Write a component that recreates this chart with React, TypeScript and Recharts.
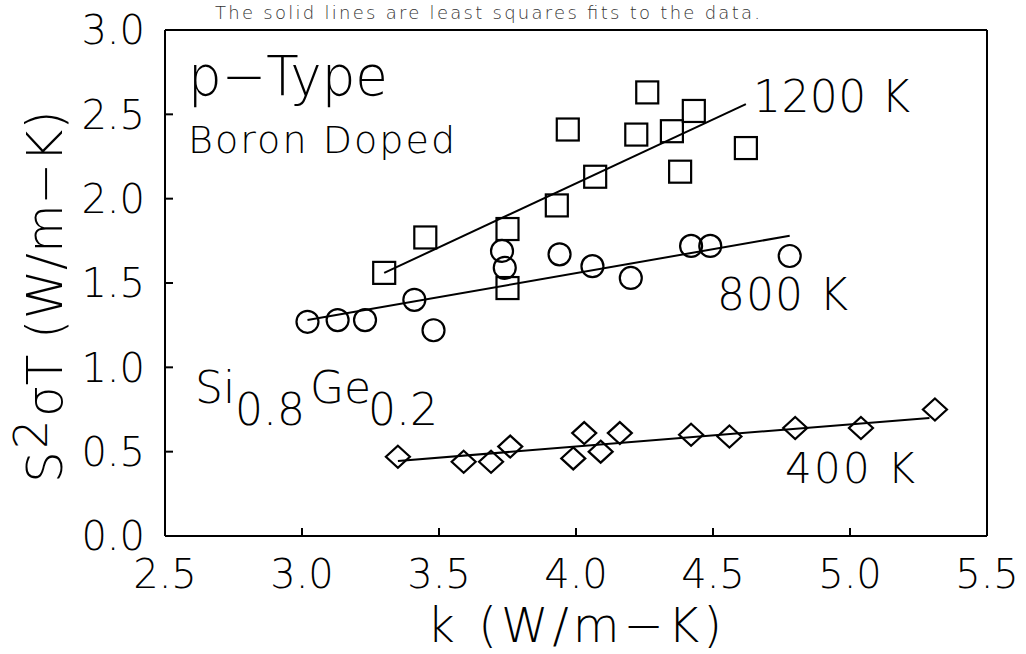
import React from 'react';
import { ScatterChart, Scatter, XAxis, YAxis } from 'recharts';

// thermal conductivity k (W/m-K) and power factor S^2 sigma T (W/m-K)
const k1200 = [3.30, 3.45, 3.75, 3.75, 3.93, 4.07, 3.97, 4.26, 4.22, 4.35, 4.43, 4.38, 4.62];
const s1200 = [1.56, 1.77, 1.82, 1.47, 1.96, 2.13, 2.41, 2.63, 2.38, 2.40, 2.52, 2.16, 2.30];

const k800 = [3.02, 3.13, 3.23, 3.41, 3.48, 3.73, 3.74, 3.94, 4.06, 4.20, 4.42, 4.49, 4.78];
const s800 = [1.27, 1.28, 1.28, 1.40, 1.22, 1.69, 1.59, 1.67, 1.60, 1.53, 1.72, 1.72, 1.66];

const k400 = [3.35, 3.59, 3.69, 3.76, 3.99, 4.03, 4.09, 4.16, 4.42, 4.56, 4.80, 5.04, 5.31];
const s400 = [0.47, 0.44, 0.44, 0.53, 0.46, 0.61, 0.50, 0.61, 0.60, 0.59, 0.64, 0.64, 0.75];

// least squares fits
const fitK1200 = [3.30, 4.62];
const fitS1200 = [1.56, 2.56];
const fitK800 = [3.02, 4.78];
const fitS800 = [1.28, 1.78];
const fitK400 = [3.35, 5.29];
const fitS400 = [0.445, 0.70];

const kTicks = [2.5, 3.0, 3.5, 4.0, 4.5, 5.0, 5.5];
const sTicks = [0, 0.5, 1.0, 1.5, 2.0, 2.5, 3.0];

const pairs = (ks: number[], ss: number[]) => ks.map((k, i) => ({ k, s: ss[i] }));

const FONT = '"DejaVu Sans", "Liberation Sans", sans-serif';
const INK = '#000';

const Square = (p: any) => (
  <rect x={p.cx - 11} y={p.cy - 11} width={22} height={22} fill="none" stroke={INK} strokeWidth={2.2} />
);
const Ring = (p: any) => <circle cx={p.cx} cy={p.cy} r={11} fill="none" stroke={INK} strokeWidth={2.2} />;
const Diamond = (p: any) => (
  <path
    d={`M${p.cx},${p.cy - 11} L${p.cx + 12},${p.cy} L${p.cx},${p.cy + 11} L${p.cx - 12},${p.cy} Z`}
    fill="none"
    stroke={INK}
    strokeWidth={2.2}
  />
);
const NoMark = () => <g />;

const fitLine = { stroke: INK, strokeWidth: 2 };
const txt = { fontFamily: FONT, fill: INK, fontWeight: 300 } as const;

export default function App() {
  return (
    <div style={{ position: 'absolute', left: 0, top: 0, width: 1026, height: 654, background: '#fff' }}>
      <ScatterChart width={1026} height={654} margin={{ top: 29, right: 38, left: 0, bottom: 0 }}>
        <XAxis
          xAxisId="b"
          type="number"
          dataKey="k"
          domain={[2.5, 5.5]}
          ticks={kTicks}
          allowDataOverflow
          height={118}
          tickSize={-8}
          tickMargin={32}
          tickFormatter={(v: number) => v.toFixed(1)}
          axisLine={{ stroke: INK, strokeWidth: 2 }}
          tickLine={{ stroke: INK, strokeWidth: 2 }}
          tick={{ fontSize: 40, fill: INK, fontFamily: FONT, fontWeight: 300 }}
        />
        <XAxis
          xAxisId="t"
          orientation="top"
          type="number"
          dataKey="k"
          domain={[2.5, 5.5]}
          ticks={kTicks}
          allowDataOverflow
          height={1}
          tickSize={-8}
          tick={false}
          axisLine={{ stroke: INK, strokeWidth: 2 }}
          tickLine={{ stroke: INK, strokeWidth: 2 }}
        />
        <YAxis
          yAxisId="l"
          type="number"
          dataKey="s"
          domain={[0, 3]}
          ticks={sTicks}
          allowDataOverflow
          width={165}
          tickSize={-8}
          tickMargin={28}
          tickFormatter={(v: number) => v.toFixed(1)}
          axisLine={{ stroke: INK, strokeWidth: 2 }}
          tickLine={{ stroke: INK, strokeWidth: 2 }}
          tick={{ fontSize: 40, fill: INK, fontFamily: FONT, fontWeight: 300 }}
        />
        <YAxis
          yAxisId="r"
          orientation="right"
          type="number"
          dataKey="s"
          domain={[0, 3]}
          ticks={sTicks}
          allowDataOverflow
          width={1}
          tickSize={-8}
          tick={false}
          axisLine={{ stroke: INK, strokeWidth: 2 }}
          tickLine={{ stroke: INK, strokeWidth: 2 }}
        />

        <Scatter xAxisId="b" yAxisId="l" data={pairs(fitK1200, fitS1200)} line={fitLine} shape={NoMark} isAnimationActive={false} />
        <Scatter xAxisId="b" yAxisId="l" data={pairs(fitK800, fitS800)} line={fitLine} shape={NoMark} isAnimationActive={false} />
        <Scatter xAxisId="b" yAxisId="l" data={pairs(fitK400, fitS400)} line={fitLine} shape={NoMark} isAnimationActive={false} />

        <Scatter xAxisId="b" yAxisId="l" data={pairs(k1200, s1200)} shape={Square} isAnimationActive={false} />
        <Scatter xAxisId="b" yAxisId="l" data={pairs(k800, s800)} shape={Ring} isAnimationActive={false} />
        <Scatter xAxisId="b" yAxisId="l" data={pairs(k400, s400)} shape={Diamond} isAnimationActive={false} />
      </ScatterChart>

      <svg width={1026} height={654} style={{ position: 'absolute', left: 0, top: 0, pointerEvents: 'none' }}>
        {/* caption above the frame */}
        <text x={215} y={19} fontSize={18} textLength={545} lengthAdjust="spacing" {...txt} fill="#333">
          The solid lines are least squares fits to the data.
        </text>

        <text x={188} y={95} fontSize={55} textLength={200} lengthAdjust="spacingAndGlyphs" {...txt}>
          p−Type
        </text>
        <text x={188} y={153} fontSize={38} textLength={267} lengthAdjust="spacing" {...txt}>
          Boron Doped
        </text>

        <text x={753} y={112} fontSize={44} textLength={157} lengthAdjust="spacing" {...txt}>
          1200 K
        </text>
        <text x={717} y={310} fontSize={44} textLength={131} lengthAdjust="spacing" {...txt}>
          800 K
        </text>
        <text x={785} y={483} fontSize={42} textLength={130} lengthAdjust="spacing" {...txt}>
          400 K
        </text>

        <text fontSize={44} {...txt}>
          <tspan x={195} y={403}>Si</tspan>
          <tspan x={235} y={425}>0.8</tspan>
          <tspan x={310} y={403}>Ge</tspan>
          <tspan x={368} y={425}>0.2</tspan>
        </text>

        <text x={427} y={642} fontSize={48} textLength={295} lengthAdjust="spacing" {...txt}>
          k (W/m−K)
        </text>

        <text transform="translate(62,483) rotate(-90)" fontSize={50} {...txt}>
          <tspan x={0} y={0}>S</tspan>
          <tspan x={34} y={-15} fontSize={46}>2</tspan>
          <tspan x={66} y={0}>σT (W/m−K)</tspan>
        </text>
      </svg>
    </div>
  );
}
